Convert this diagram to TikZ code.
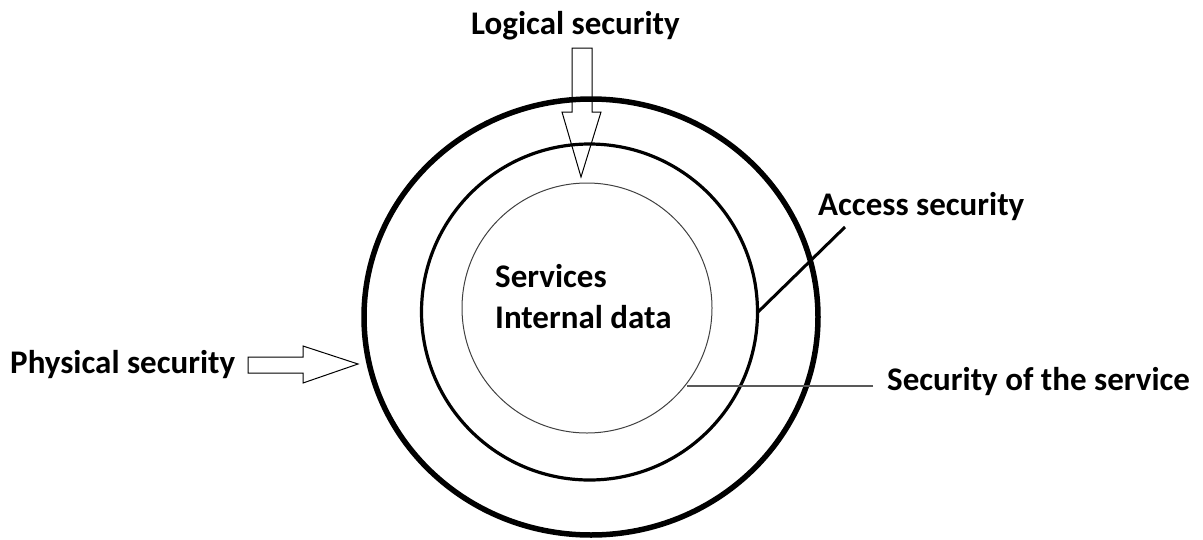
\documentclass[tikz,border=0pt]{standalone}
\usepackage{fontspec}
\setmainfont{Carlito}
\begin{document}
\begin{tikzpicture}[x=1pt,y=-1pt,
  lbl/.style={font=\bfseries\fontsize{33}{36}\selectfont, inner sep=0pt, anchor=base west},
  arrowshape/.style={draw=black, line width=1pt, line join=miter},
  outerring/.style={draw=black, line width=5.5pt},
  midring/.style={draw=black, line width=3.2pt},
  innerring/.style={draw=black!75, line width=1pt}]
\useasboundingbox (0,0) rectangle (1203,539);
% rings
\draw[outerring] (591,317) ellipse [x radius=227, y radius=218];
\draw[midring] (589.5,312) circle [radius=168];
\draw[innerring] (587,308) circle [radius=125];
% labels
\node[lbl] (logical) at (471,34) {Logical security};
\node[lbl] (physical) at (10,373) {Physical security};
\node[lbl] (access) at (818,215) {Access security};
\node[lbl] (service) at (887,390) {Security of the service};
\node[lbl] (services) at (495,287) {Services};
\node[lbl] (internal) at (495,328) {Internal data};
% logical arrow
\coordinate (ltip) at (581,177);
\draw[arrowshape] (572,48) -- (592,48) -- (592,112) -- (601,112) -- (ltip) -- (562,112) -- (572,112) -- cycle;
% physical arrow
\coordinate (ptip) at (358,364);
\draw[arrowshape] (248,357) -- (303,357) -- (303,346) -- (ptip) -- (303,383) -- (303,373) -- (248,373) -- cycle;
% access line
\coordinate (aend) at (757,313);
\coordinate (astart) at (845,227);
\draw[line width=3pt] (astart) -- (aend);
% service line
\coordinate (send) at (687,386);
\coordinate (sstart) at (873,386);
\draw[black!65, line width=1.5pt] (sstart) -- (send);
\end{tikzpicture}
\end{document}
